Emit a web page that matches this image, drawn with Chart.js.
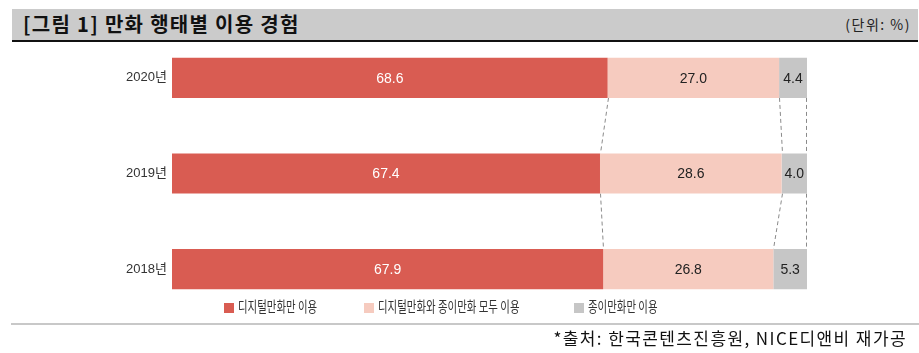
<!DOCTYPE html>
<html><head><meta charset="utf-8">
<script src="https://cdn.jsdelivr.net/npm/chart.js@4/dist/chart.umd.min.js"></script>
<style>
html,body{margin:0;padding:0;background:#fff;}
#wrap{position:relative;width:919px;height:353px;overflow:hidden;font-family:"Liberation Sans","Noto Sans CJK KR",sans-serif;}
#titlebar{position:absolute;left:12px;top:9px;width:906px;height:31px;background:#cbcbcb;border-bottom:2px solid #111;}
#title{position:absolute;left:11px;top:3px;font-family:"Noto Sans CJK KR";font-weight:bold;font-size:20px;letter-spacing:1.3px;color:#111;line-height:24px;white-space:nowrap;}
#unit{position:absolute;right:7px;top:6px;font-family:"Noto Sans CJK KR";font-size:14px;letter-spacing:1.5px;color:#222;line-height:19px;white-space:nowrap;}
#c{position:absolute;left:0;top:0;}
#legend{position:absolute;top:296px;left:0;width:919px;height:20px;font-family:"Noto Sans CJK KR";font-size:14.5px;color:#333;}
.li{position:absolute;top:0;line-height:20px;white-space:nowrap;}
.sw{display:inline-block;width:10px;height:10px;margin-right:4px;vertical-align:-1px;}
.tx{display:inline-block;transform:scaleX(0.72);transform-origin:left center;}
#rule{position:absolute;left:11px;top:323px;width:908px;height:2px;background:#c8c8c8;}
#src{position:absolute;right:12px;top:327px;font-family:"Noto Sans CJK KR";font-size:17px;letter-spacing:1.4px;color:#111;line-height:22px;white-space:nowrap;}
</style></head>
<body>
<div id="wrap">
<div id="titlebar"><div id="title">[그림 1] 만화 행태별 이용 경험</div><div id="unit">(단위: %)</div></div>
<canvas id="c" width="919" height="353"></canvas>
<div id="legend"></div>
<div id="rule"></div>
<div id="src">*출처: 한국콘텐츠진흥원, NICE디앤비 재가공</div>
</div>
<script>
const categories = ["2020년", "2019년", "2018년"];
const seriesNames = ["디지털만화만 이용", "디지털만화와 종이만화 모두 이용", "종이만화만 이용"];
const digitalOnly = [68.6, 67.4, 67.9];
const both = [27.0, 28.6, 26.8];
const paperOnly = [4.4, 4.0, 5.3];
const colors = ["#d95c52", "#f6cbbf", "#c6c6c6"];
const labelColors = ["#ffffff", "#222222", "#222222"];

const seriesData = [digitalOnly, both, paperOnly];

// legend (HTML)
const legendLeft = [224, 364, 574];
const lg = document.getElementById('legend');
seriesNames.forEach((n, i) => {
  const d = document.createElement('div');
  d.className = 'li';
  d.style.left = legendLeft[i] + 'px';
  d.innerHTML = '<span class="sw" style="background:' + colors[i] + '"></span><span class="tx">' + n + '</span>';
  lg.appendChild(d);
});

const labelPlugin = {
  id: 'labels',
  afterDatasetsDraw(chart) {
    const ctx = chart.ctx;
    ctx.save();
    ctx.font = '14px "Liberation Sans", "Noto Sans CJK KR"';
    ctx.textAlign = 'center';
    ctx.textBaseline = 'middle';
    chart.data.datasets.forEach((ds, di) => {
      const meta = chart.getDatasetMeta(di);
      meta.data.forEach((el, i) => {
        const p = el.getProps(['x', 'y', 'base'], true);
        const cx = (p.x + p.base) / 2;
        ctx.fillStyle = labelColors[di];
        ctx.fillText(ds.data[i].toFixed(1), cx, p.y + 1);
      });
    });
    ctx.restore();
  }
};

const connectorPlugin = {
  id: 'connectors',
  beforeDatasetsDraw(chart) {
    const ctx = chart.ctx;
    const xs = chart.scales.x;
    const n = categories.length;
    ctx.save();
    ctx.strokeStyle = '#8a8a8a';
    ctx.lineWidth = 1;
    ctx.setLineDash([4, 3]);
    const meta0 = chart.getDatasetMeta(0);
    for (let i = 0; i < n - 1; i++) {
      const a = meta0.data[i], b = meta0.data[i + 1];
      const ya = a.y + a.height / 2;
      const yb = b.y - b.height / 2;
      let cumA = 0, cumB = 0;
      for (let s = 0; s < seriesData.length; s++) {
        cumA += seriesData[s][i];
        cumB += seriesData[s][i + 1];
        let xa = Math.round(xs.getPixelForValue(cumA)) + 0.5;
        let xb = Math.round(xs.getPixelForValue(cumB)) + 0.5;
        if (s === seriesData.length - 1) { xa -= 1; xb -= 1; }
        ctx.beginPath();
        ctx.moveTo(xa, ya);
        ctx.lineTo(xb, yb);
        ctx.stroke();
      }
    }
    ctx.restore();
  }
};

new Chart(document.getElementById('c'), {
  type: 'bar',
  data: {
    labels: categories,
    datasets: seriesData.map((d, i) => ({
      label: seriesNames[i],
      data: d,
      backgroundColor: colors[i],
      borderWidth: 0,
      categoryPercentage: 1,
      barPercentage: 0.42
    }))
  },
  options: {
    indexAxis: 'y',
    responsive: false,
    animation: false,
    layout: { padding: { left: 0, right: 112, top: 30, bottom: 36 } },
    plugins: { legend: { display: false }, tooltip: { enabled: false } },
    scales: {
      x: { stacked: true, min: 0, max: 100, display: false },
      y: {
        stacked: true,
        grid: { display: false, drawTicks: false },
        border: { display: false },
        ticks: { color: '#333', font: { family: '"Liberation Sans", "Noto Sans CJK KR"', size: 13 }, padding: 5 },
        afterFit(scale) { scale.width = 172; }
      }
    }
  },
  plugins: [connectorPlugin, labelPlugin]
});
</script>
</body></html>
